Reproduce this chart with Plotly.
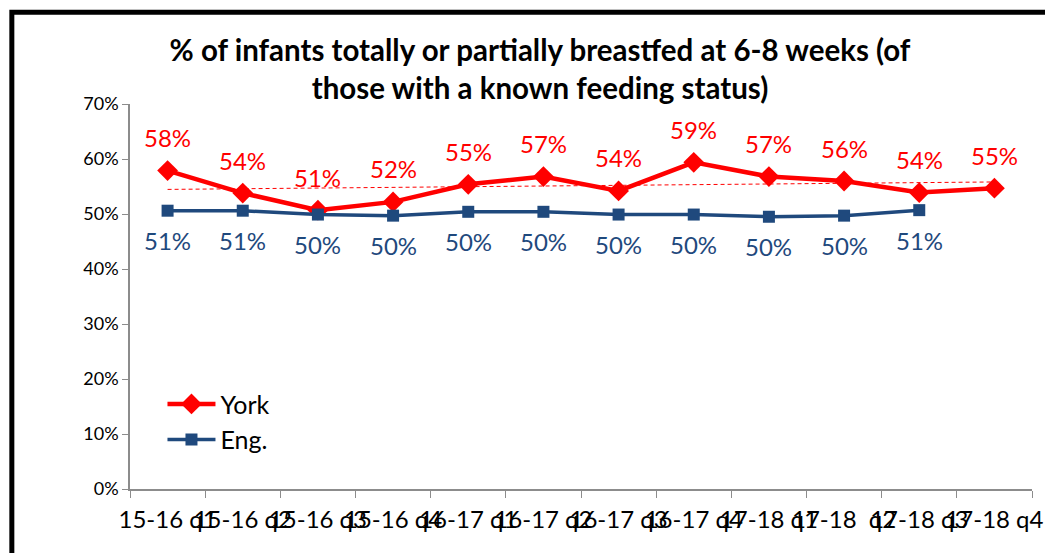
import numpy as np
import plotly.graph_objects as go

# quarters on the x axis
quarters = ["15-16 q1", "15-16 q2", "15-16 q3", "15-16 q4",
            "16-17 q1", "16-17 q2", "16-17 q3", "16-17 q4",
            "17-18 q1", "17-18  q2", "17-18 q3", "17-18 q4"]

# % breastfed at 6-8 weeks
york = [0.579, 0.538, 0.507, 0.522, 0.554, 0.568, 0.542, 0.594, 0.568, 0.560, 0.539, 0.547]
eng = [0.506, 0.506, 0.499, 0.497, 0.504, 0.504, 0.499, 0.499, 0.495, 0.497, 0.507]

y_ticks = [0, 0.1, 0.2, 0.3, 0.4, 0.5, 0.6, 0.7]

RED = "#FF0000"
BLUE = "#1F497D"
FONT = "Lato"

fig = go.Figure()

# linear trend of York (dashed, as Excel's trendline)
idx = np.arange(len(york))
slope, icpt = np.polyfit(idx, york, 1)
fig.add_trace(go.Scatter(
    x=quarters, y=slope * idx + icpt, mode="lines",
    line=dict(color=RED, width=1, dash="4px,3px"),
    showlegend=False, hoverinfo="skip"))

fig.add_trace(go.Scatter(
    x=quarters, y=york, name="York", mode="lines+markers",
    line=dict(color=RED, width=4.5),
    marker=dict(symbol="diamond", size=16, color=RED)))

fig.add_trace(go.Scatter(
    x=quarters[:len(eng)], y=eng, name="Eng.", mode="lines+markers",
    line=dict(color=BLUE, width=3.5),
    marker=dict(symbol="square", size=12, color=BLUE)))

# data labels
for q, v in zip(quarters, york):
    fig.add_annotation(x=q, y=v, text=f"{v:.0%}", showarrow=False, yshift=33,
                       font=dict(family=FONT, size=24, color=RED))
for q, v in zip(quarters, eng):
    fig.add_annotation(x=q, y=v, text=f"{v:.0%}", showarrow=False, yshift=-30,
                       font=dict(family=FONT, size=24, color=BLUE))

# chart frame (top and left edges visible, rest cut off)
fig.add_shape(type="rect", xref="paper", yref="paper",
              x0=-0.131, x1=1.05, y0=-0.3, y1=1.238,
              line=dict(color="black", width=5), layer="below")

# page body adds an 8px offset, so the figure is 8px smaller than the window
fig.update_layout(
    width=1045, height=545,
    margin=dict(l=122, r=10, t=96, b=64),
    paper_bgcolor="white", plot_bgcolor="white",
    font=dict(family=FONT, color="black"),
    title=dict(
        text="% of infants totally or partially breastfed at 6-8 weeks (of<br>those with a known feeding status)",
        x=532 / 1045, xanchor="center", xref="container",
        y=1 - 53 / 545, yanchor="top", yref="container",
        font=dict(family=FONT, size=29.5, color="black", weight="bold")),
    legend=dict(x=0.036, y=0.28, xanchor="left", yanchor="top",
                bgcolor="rgba(0,0,0,0)", font=dict(family=FONT, size=25),
                tracegroupgap=0, itemwidth=48),
    showlegend=True,
)

fig.update_xaxes(
    type="category", range=[-0.5, 11.5], tickangle=0, showgrid=False,
    showline=True, linecolor="#8C8C8C", linewidth=1.5,
    ticks="outside", tickson="boundaries", ticklen=7, tickcolor="#8C8C8C",
    ticklabelstandoff=8,
    tickfont=dict(family=FONT, size=24, color="black"),
)
fig.update_yaxes(
    range=[0, 0.7], tickvals=y_ticks, tickformat=".0%", showgrid=False,
    showline=True, linecolor="#8C8C8C", linewidth=1.5, zeroline=False,
    ticks="outside", ticklen=6, tickcolor="#8C8C8C",
    tickfont=dict(family=FONT, size=18, color="black"),
)

fig.write_html("out.html")
